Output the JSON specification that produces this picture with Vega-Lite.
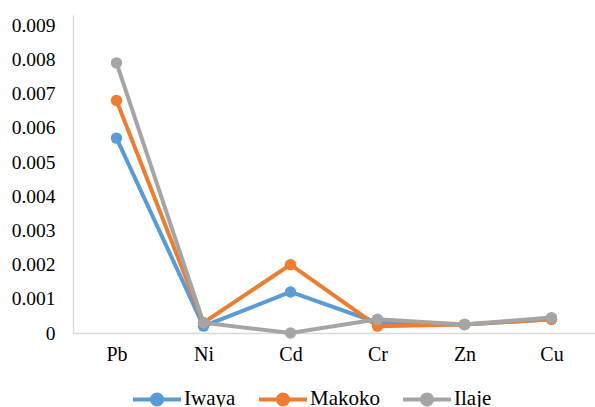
{
  "$schema": "https://vega.github.io/schema/vega-lite/v6.json",
  "autosize": {"type": "none"},
  "padding": {"left": 73, "top": 15, "right": 0, "bottom": 74},
  "width": 522,
  "height": 318,
  "background": "white",
  "config": {"view": {"stroke": null}, "font": "Liberation Serif"},
  "data": {
    "values": [
      {"metal": "Pb", "site": "Iwaya", "value": 0.0057},
      {"metal": "Ni", "site": "Iwaya", "value": 0.0002},
      {"metal": "Cd", "site": "Iwaya", "value": 0.0012},
      {"metal": "Cr", "site": "Iwaya", "value": 0.0003},
      {"metal": "Zn", "site": "Iwaya", "value": 0.00025},
      {"metal": "Cu", "site": "Iwaya", "value": 0.0004},
      {"metal": "Pb", "site": "Makoko", "value": 0.0068},
      {"metal": "Ni", "site": "Makoko", "value": 0.0003},
      {"metal": "Cd", "site": "Makoko", "value": 0.002},
      {"metal": "Cr", "site": "Makoko", "value": 0.0002},
      {"metal": "Zn", "site": "Makoko", "value": 0.00025},
      {"metal": "Cu", "site": "Makoko", "value": 0.0004},
      {"metal": "Pb", "site": "Ilaje", "value": 0.0079},
      {"metal": "Ni", "site": "Ilaje", "value": 0.0003},
      {"metal": "Cd", "site": "Ilaje", "value": 0.0},
      {"metal": "Cr", "site": "Ilaje", "value": 0.0004},
      {"metal": "Zn", "site": "Ilaje", "value": 0.00025},
      {"metal": "Cu", "site": "Ilaje", "value": 0.00045}
    ]
  },
  "mark": {"type": "line", "strokeWidth": 4, "point": {"filled": true, "size": 130}},
  "encoding": {
    "x": {
      "field": "metal", "type": "nominal",
      "sort": ["Pb", "Ni", "Cd", "Cr", "Zn", "Cu"],
      "axis": {
        "title": null, "labelAngle": 0, "ticks": false, "grid": false,
        "domainColor": "#D9D9D9", "domainWidth": 1.3,
        "labelFont": "Liberation Serif", "labelFontSize": 20, "labelColor": "#000",
        "labelPadding": 11
      }
    },
    "y": {
      "field": "value", "type": "quantitative",
      "scale": {"domain": [0, 0.0093], "nice": false},
      "axis": {
        "title": null, "grid": false, "ticks": false,
        "values": [0, 0.001, 0.002, 0.003, 0.004, 0.005, 0.006, 0.007, 0.008, 0.009],
        "labelExpr": "datum.value == 0 ? '0' : format(datum.value, '.3f')",
        "domainColor": "#D9D9D9", "domainWidth": 1.3,
        "labelFont": "Liberation Serif", "labelFontSize": 19.5, "labelColor": "#000",
        "labelPadding": 18
      }
    },
    "color": {
      "field": "site", "type": "nominal",
      "sort": ["Iwaya", "Makoko", "Ilaje"],
      "scale": {"domain": ["Iwaya", "Makoko", "Ilaje"], "range": ["#5B9BD5", "#ED7D31", "#A5A5A5"]},
      "legend": {
        "orient": "none", "legendX": 58, "legendY": 358,
        "direction": "horizontal", "title": null,
        "symbolType": "M-1,0L1,0M0.21,0A0.21,0.21,0,1,1,-0.21,0A0.21,0.21,0,1,1,0.21,0Z",
        "symbolSize": 2304, "symbolStrokeWidth": 4,
        "labelFont": "Liberation Serif", "labelFontSize": 21, "labelColor": "#000",
        "columnPadding": 15, "labelOffset": 1,
        "encode": {
          "symbols": {
            "update": {
              "fill": {"scale": "color", "field": "value"},
              "stroke": {"scale": "color", "field": "value"},
              "opacity": {"value": 1}
            }
          }
        }
      }
    }
  }
}
